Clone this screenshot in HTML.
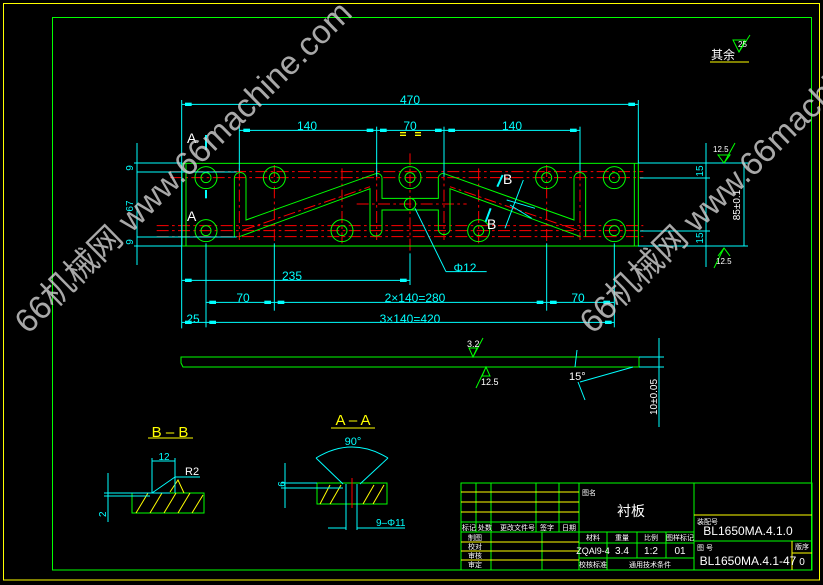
<!DOCTYPE html>
<html><head><meta charset="utf-8"><style>
html,body{margin:0;padding:0;background:#000;}
svg{display:block;}
text{font-family:"Liberation Sans","Noto Sans CJK SC",sans-serif;}
</style></head><body>
<svg width="823" height="585" viewBox="0 0 823 585" xmlns="http://www.w3.org/2000/svg">
<rect width="823" height="585" fill="#000"/>
<rect x="3.5" y="3.5" width="816" height="576.5" fill="none" stroke="#ffff00" stroke-width="1"/>
<rect x="52.5" y="17.5" width="759" height="552.5" fill="none" stroke="#00ff00" stroke-width="1"/>

<g transform="translate(170,90) scale(0.33333)" fill="none" stroke-width="3">
 <g stroke="#ff0000" stroke-dasharray="36,10,8,10">
  <line x1="0" y1="245" x2="1420" y2="245"/>
  <line x1="0" y1="263" x2="1420" y2="263"/>
  <line x1="-40" y1="407" x2="1420" y2="407"/>
  <line x1="-40" y1="422" x2="1420" y2="422"/>
  <line x1="-40" y1="440" x2="1420" y2="440"/>
  <line x1="560" y1="342" x2="890" y2="342"/>
  <line x1="720" y1="190" x2="720" y2="490"/>
  <line x1="313" y1="225" x2="313" y2="460"/>
  <line x1="516" y1="235" x2="516" y2="460"/>
  <line x1="926" y1="235" x2="926" y2="460"/>
  <line x1="1130" y1="225" x2="1130" y2="460"/>
  <line x1="208" y1="235" x2="208" y2="450"/>
  <line x1="1230" y1="235" x2="1230" y2="450"/>
  <line x1="620" y1="235" x2="620" y2="450"/>
  <line x1="822" y1="235" x2="822" y2="450"/>
  <line x1="220" y1="420" x2="600" y2="290"/>
  <line x1="1220" y1="420" x2="840" y2="290"/>
 </g>
 <g stroke="#00ff00">
  <rect x="36" y="220" width="1369" height="248"/>
  <line x1="48" y1="220" x2="48" y2="468"/>
  <line x1="1393" y1="220" x2="1393" y2="468"/>
  <g>
   <circle cx="108" cy="263" r="33"/><circle cx="108" cy="263" r="15"/>
   <circle cx="313" cy="263" r="33"/><circle cx="313" cy="263" r="15"/>
   <circle cx="720" cy="263" r="33"/><circle cx="720" cy="263" r="15"/>
   <circle cx="1130" cy="263" r="33"/><circle cx="1130" cy="263" r="15"/>
   <circle cx="1333" cy="263" r="33"/><circle cx="1333" cy="263" r="15"/>
   <circle cx="108" cy="422" r="33"/><circle cx="108" cy="422" r="15"/>
   <circle cx="516" cy="422" r="33"/><circle cx="516" cy="422" r="15"/>
   <circle cx="926" cy="422" r="33"/><circle cx="926" cy="422" r="15"/>
   <circle cx="1333" cy="422" r="33"/><circle cx="1333" cy="422" r="15"/>
   <circle cx="720" cy="342" r="17"/>
  </g>
  <path d="M193,440 L193,265 A17,17 0 0 1 228,265 L228,390 L620,250"/>
  <path d="M208,440 L600,296 L600,420 A18,18 0 0 0 636,420 L636,360 L805,360 L805,420 A18,18 0 0 0 840,420 L840,296 L1232,440"/>
  <path d="M636,262 L636,325 L805,325 L805,262"/>
  <path d="M1247,440 L1247,265 A17,17 0 0 0 1212,265 L1212,390 L820,250"/>
  <path d="M620,250 A16,16 0 0 1 636,262"/>
  <path d="M820,250 A16,16 0 0 0 805,262"/>
 </g>
 <g stroke="#00ffff">
  <line x1="35" y1="43" x2="1405" y2="43"/>
  <line x1="35" y1="30" x2="35" y2="715"/>
  <line x1="1405" y1="30" x2="1405" y2="220"/>
  <line x1="208" y1="121" x2="1230" y2="121"/>
  <line x1="208" y1="110" x2="208" y2="245"/>
  <line x1="620" y1="110" x2="620" y2="260"/>
  <line x1="822" y1="110" x2="822" y2="260"/>
  <line x1="1230" y1="110" x2="1230" y2="245"/>
  <line x1="35" y1="571" x2="720" y2="571"/>
  <line x1="720" y1="490" x2="720" y2="585"/>
  <line x1="108" y1="637" x2="1333" y2="637"/>
  <line x1="35" y1="697" x2="1333" y2="697"/>
  <line x1="108" y1="460" x2="108" y2="712"/>
  <line x1="313" y1="460" x2="313" y2="662"/>
  <line x1="1130" y1="460" x2="1130" y2="662"/>
  <line x1="1333" y1="460" x2="1333" y2="712"/>
  <line x1="735" y1="355" x2="828" y2="545"/>
  <line x1="828" y1="545" x2="950" y2="545"/>
  <line x1="-100" y1="246" x2="200" y2="246"/>
  <line x1="-100" y1="441" x2="200" y2="441"/>
  <line x1="108" y1="300" x2="108" y2="325" stroke-width="6"/>
  <line x1="108" y1="135" x2="108" y2="180" stroke-width="6"/>
  <line x1="982" y1="290" x2="998" y2="255" stroke-width="6"/>
  <line x1="947" y1="395" x2="962" y2="355" stroke-width="6"/>
  <line x1="1005" y1="415" x2="1060" y2="270"/>
  <line x1="1010" y1="330" x2="1095" y2="355"/>
  <line x1="1020" y1="345" x2="1085" y2="385"/>
 </g>
 <g fill="#00ffff">
  <rect x="45" y="38" width="20" height="10"/><rect x="1375" y="38" width="20" height="10"/>
  <rect x="220" y="116" width="20" height="10"/><rect x="590" y="116" width="20" height="10"/>
  <rect x="630" y="116" width="20" height="10"/><rect x="795" y="116" width="20" height="10"/>
  <rect x="835" y="116" width="20" height="10"/><rect x="1200" y="116" width="20" height="10"/>
  <rect x="45" y="566" width="20" height="10"/><rect x="690" y="566" width="20" height="10"/>
  <rect x="118" y="632" width="20" height="10"/><rect x="283" y="632" width="20" height="10"/>
  <rect x="323" y="632" width="20" height="10"/><rect x="1100" y="632" width="20" height="10"/>
  <rect x="1140" y="632" width="20" height="10"/><rect x="1300" y="632" width="20" height="10"/>
  <rect x="45" y="692" width="20" height="10"/><rect x="118" y="692" width="20" height="10"/><rect x="1305" y="692" width="20" height="10"/>
 </g>
 <g stroke="#ffff00" stroke-width="4">
  <line x1="690" y1="128" x2="708" y2="128"/><line x1="690" y1="136" x2="708" y2="136"/>
  <line x1="735" y1="128" x2="753" y2="128"/><line x1="735" y1="136" x2="753" y2="136"/>
 </g>
</g>
<g fill="#00ffff" font-size="12" text-anchor="middle">
 <text x="410" y="104">470</text>
 <text x="307" y="130">140</text>
 <text x="410" y="130">70</text>
 <text x="512" y="130">140</text>
 <text x="292" y="280">235</text>
 <text x="243" y="302">70</text>
 <text x="415" y="302">2×140=280</text>
 <text x="578" y="302">70</text>
 <text x="193" y="323">25</text>
 <text x="410" y="323">3×140=420</text>
 <text x="465" y="272">Φ12</text>
</g>
<g fill="#fff" font-size="14">
 <text x="187" y="143">A</text><text x="187" y="221">A</text>
 <text x="503" y="184">B</text><text x="487" y="229">B</text>
</g>
<g stroke="#00ffff" fill="none">
 <line x1="137" y1="143" x2="137" y2="265"/>
 <line x1="134" y1="163" x2="182" y2="163"/>
 <line x1="134" y1="246" x2="182" y2="246"/>
</g>
<g fill="#00ffff" font-size="10" text-anchor="middle">
 <text transform="translate(133,168) rotate(-90)">9</text>
 <text transform="translate(133,206) rotate(-90)">67</text>
 <text transform="translate(133,242) rotate(-90)">9</text>
</g>
<g stroke="#00ffff" fill="none">
 <line x1="638" y1="163" x2="748" y2="163"/>
 <line x1="640" y1="178" x2="710" y2="178"/>
 <line x1="640" y1="231" x2="710" y2="231"/>
 <line x1="638" y1="246" x2="748" y2="246"/>
 <line x1="706" y1="143" x2="706" y2="267"/>
 <line x1="744" y1="163" x2="744" y2="246"/>
</g>
<g fill="#00ffff" font-size="10" text-anchor="middle">
 <text transform="translate(703,171) rotate(-90)">15</text>
 <text transform="translate(703,238) rotate(-90)">15</text>
 <text transform="translate(740,205) rotate(-90)" fill="#fff">85±0.1</text>
</g>
<g stroke="#00ff00" fill="none"><path d="M718,155 L724,163 L730,155 Z M724,163 L735,143"/><path d="M718,256 L724,248 L730,256 M724,248 L714,268"/><path d="M733,40 L739,52 L745,40 Z M739,52 L750,35"/></g>
<g fill="#fff" font-size="8"><text x="713" y="152">12.5</text><text x="716" y="264">12.5</text><text x="738" y="47">25</text></g>
<text x="711" y="59" fill="#fff" font-size="12">其余</text>
<line x1="710" y1="62" x2="749" y2="62" stroke="#ffff00"/>

<g fill="none">
 <path d="M181,357 L639,357 L639,367 L183,367 L181,363 Z" stroke="#00ff00"/>
 <g stroke="#00ffff">
  <line x1="639" y1="357" x2="664" y2="357"/><line x1="639" y1="367" x2="664" y2="367"/>
  <line x1="659" y1="338" x2="659" y2="427"/>
  <line x1="577" y1="350" x2="575" y2="367"/>
  <line x1="578" y1="382" x2="585" y2="400"/>
  <line x1="580" y1="382" x2="633" y2="367"/>
 </g>
 <path d="M469,348 L473,357 L477,348 Z M473,357 L483,338" stroke="#00ff00"/>
 <path d="M482,376 L486,367 L490,376 Z M486,367 L476,388" stroke="#00ff00"/>
</g>
<g font-size="9"><text x="467" y="347" fill="#fff">3.2</text><text x="481" y="385" fill="#fff">12.5</text><text x="569" y="380" fill="#fff" font-size="11">15°</text></g>
<text transform="translate(657,397) rotate(-90)" fill="#fff" font-size="10" text-anchor="middle">10±0.05</text>

<text x="170" y="437" fill="#ffff00" font-size="15" text-anchor="middle">B – B</text>
<line x1="148" y1="438" x2="193" y2="438" stroke="#ffff00"/>
<g fill="none">
 <rect x="132" y="493" width="72" height="20" stroke="#00ff00"/>
 <g stroke="#ffff00"><line x1="136" y1="513" x2="148" y2="493"/><line x1="150" y1="513" x2="162" y2="493"/><line x1="164" y1="513" x2="176" y2="493"/><line x1="178" y1="513" x2="190" y2="493"/><line x1="192" y1="513" x2="203" y2="495"/><path d="M170,492 L178,480 L184,493"/></g>
 <g stroke="#00ffff">
  <line x1="152" y1="461" x2="175" y2="461"/><line x1="152" y1="458" x2="152" y2="493"/><line x1="175" y1="458" x2="175" y2="493"/>
  <line x1="175" y1="477" x2="200" y2="477"/><line x1="175" y1="477" x2="152" y2="493"/>
  <line x1="108" y1="473" x2="108" y2="522"/><line x1="104" y1="493" x2="170" y2="493"/><line x1="104" y1="496" x2="150" y2="496"/>
 </g>
</g>
<text x="164" y="460" fill="#00ffff" font-size="10" text-anchor="middle">12</text>
<text x="185" y="475" fill="#fff" font-size="11">R2</text>
<text transform="translate(106,517) rotate(-90)" fill="#00ffff" font-size="10">2</text>

<text x="353" y="425" fill="#ffff00" font-size="15" text-anchor="middle">A – A</text>
<line x1="331" y1="428" x2="375" y2="428" stroke="#ffff00"/>
<g fill="none">
 <rect x="317" y="483" width="70" height="21" stroke="#00ff00"/>
 <g stroke="#ffff00"><line x1="320" y1="504" x2="330" y2="485"/><line x1="330" y1="504" x2="341" y2="485"/><line x1="363" y1="504" x2="374" y2="485"/><line x1="373" y1="504" x2="384" y2="485"/></g>
 <g stroke="#00ffff">
  <line x1="316" y1="458" x2="343" y2="484"/><line x1="388" y1="458" x2="360" y2="484"/>
  <path d="M316,458 Q352,436 388,458"/>
  <line x1="346" y1="484" x2="346" y2="530"/><line x1="357" y1="484" x2="357" y2="530"/>
  <line x1="328" y1="528" x2="346" y2="528"/><line x1="357" y1="528" x2="405" y2="528"/>
  <line x1="285" y1="463" x2="285" y2="508"/><line x1="281" y1="483" x2="317" y2="483"/><line x1="281" y1="488" x2="343" y2="488"/>
 </g>
 <line x1="352" y1="478" x2="352" y2="508" stroke="#ff0000"/>
</g>
<text x="353" y="445" fill="#00ffff" font-size="11" text-anchor="middle">90°</text>
<text x="376" y="526" fill="#00ffff" font-size="10">9–Φ11</text>
<text x="284" y="491" fill="#00ffff" font-size="10" text-anchor="middle" transform="rotate(-90 281 487)">6</text>

<g fill="none" stroke="#00ff00">
 <rect x="461" y="483" width="351" height="87"/>
 <line x1="579" y1="483" x2="579" y2="570"/>
 <line x1="694" y1="483" x2="694" y2="570"/>
 <line x1="476" y1="483" x2="476" y2="532"/><line x1="491" y1="483" x2="491" y2="570"/>
 <line x1="536" y1="483" x2="536" y2="532"/><line x1="559" y1="483" x2="559" y2="532"/>
 <line x1="542" y1="532" x2="542" y2="570"/>
 <line x1="461" y1="522" x2="579" y2="522"/><line x1="461" y1="532" x2="694" y2="532"/>
 <line x1="607" y1="532" x2="607" y2="570"/><line x1="637" y1="532" x2="637" y2="558"/><line x1="666" y1="532" x2="666" y2="558"/>
 <line x1="579" y1="543" x2="694" y2="543"/><line x1="579" y1="558" x2="694" y2="558"/>
 <line x1="694" y1="541" x2="812" y2="541"/>
</g>
<g stroke="#ffff00">
 <line x1="461" y1="492" x2="579" y2="492"/><line x1="461" y1="502" x2="579" y2="502"/><line x1="461" y1="512" x2="579" y2="512"/>
 <line x1="461" y1="542" x2="579" y2="542"/><line x1="461" y1="551" x2="579" y2="551"/><line x1="461" y1="560" x2="579" y2="560"/>
 <line x1="694" y1="515" x2="812" y2="515"/>
 <line x1="792" y1="541" x2="792" y2="570"/><line x1="792" y1="553" x2="812" y2="553"/>
</g>
<g fill="#fff" font-size="7">
 <text x="582" y="495">图名</text>
 <text x="462" y="530">标记 处数</text><text x="500" y="530">更改文件号</text><text x="540" y="530">签字</text><text x="562" y="530">日期</text>
 <text x="475" y="540" text-anchor="middle">制图</text><text x="475" y="549" text-anchor="middle">校对</text><text x="475" y="558" text-anchor="middle">审核</text><text x="475" y="567" text-anchor="middle">审定</text>
 <text x="593" y="540" text-anchor="middle">材料</text><text x="622" y="540" text-anchor="middle">重量</text><text x="651" y="540" text-anchor="middle">比例</text><text x="680" y="540" text-anchor="middle">图样标记</text>
 <text x="593" y="567" text-anchor="middle">校核标准</text><text x="650" y="567" text-anchor="middle">通用技术条件</text>
 <text x="697" y="524">装配号</text><text x="697" y="550">图 号</text><text x="802" y="549" text-anchor="middle">版序</text>
</g>
<g fill="#fff" font-size="10" text-anchor="middle">
 <text x="593" y="554" font-size="9">ZQAl9-4</text><text x="622" y="554">3.4</text><text x="651" y="554">1:2</text><text x="680" y="554">01</text>
 <text x="748" y="535" font-size="12">BL1650MA.4.1.0</text>
 <text x="748" y="565" font-size="12">BL1650MA.4.1-47</text>
 <text x="802" y="565">0</text>
 <text x="631" y="516" font-size="14">衬板</text>
</g>

<g fill="rgba(210,210,210,0.8)" font-size="33">
 <text transform="translate(28,335) rotate(-44.5)">66机械网 www.66machine.com</text>
 <text transform="translate(593,335) rotate(-44.5)">66机械网 www.66machine.com</text>
</g>
</svg>
</body></html>
